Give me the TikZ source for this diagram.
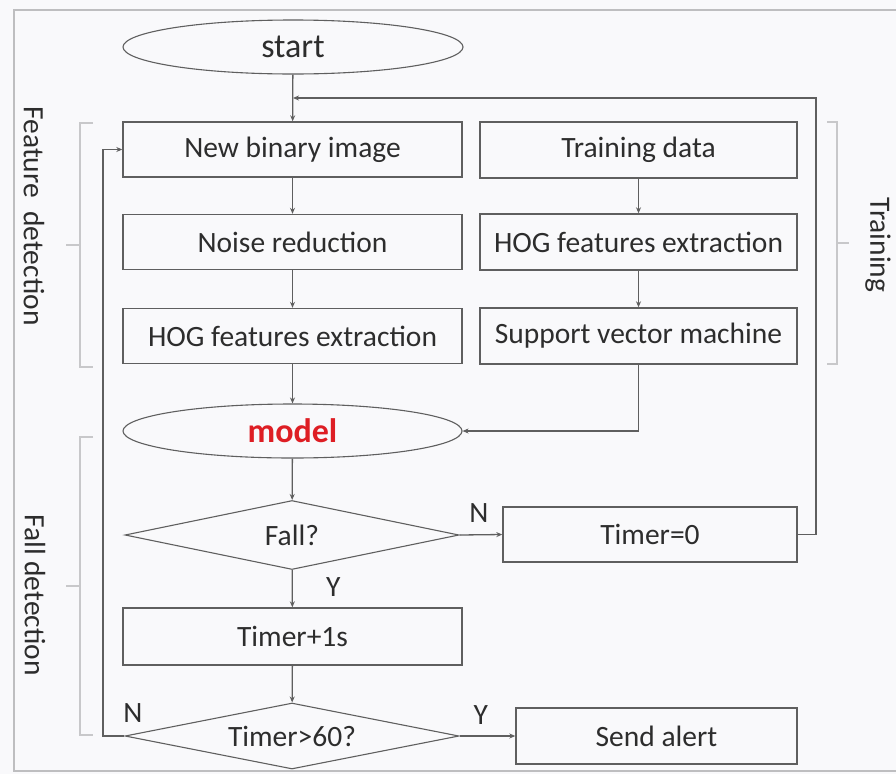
\documentclass[tikz,border=0pt]{standalone}
\usepackage{fontspec}
\setmainfont{Carlito}
\usetikzlibrary{shapes.geometric,arrows.meta}
\definecolor{bgc}{RGB}{249,249,251}
\definecolor{framec}{RGB}{190,190,192}
\definecolor{linec}{RGB}{95,95,95}
\definecolor{txtc}{RGB}{45,45,45}
\definecolor{bracec}{RGB}{200,200,202}
\definecolor{modelred}{RGB}{222,30,36}
\begin{document}
\begin{tikzpicture}[x=1pt,y=-1pt,
  every node/.style={font=\fontsize{29.5}{34}\selectfont, text=txtc},
  procbox/.style={draw=linec, line width=1.4pt, rectangle, inner sep=0pt, minimum height=55pt},
  termshape/.style={draw=linec, line width=1.1pt, ellipse, inner sep=0pt, minimum width=339pt, minimum height=54pt},
  decide/.style={draw=linec, line width=1.1pt, diamond, shape aspect=5, inner sep=0pt, minimum width=334pt},
  flow/.style={draw=linec, line width=1.3pt, -{Stealth[length=6pt,width=5pt]}},
  brace/.style={draw=bracec, line width=1.2pt},
  sidelabel/.style={rotate=-90, anchor=center}]
% background and frame
\fill[bgc] (0,0) rectangle (896,774);
\useasboundingbox (0,0) rectangle (896,774);
\draw[framec, line width=1.6pt] (896,10) -- (14,10) -- (14,771) -- (896,771);

% left column
\node[termshape, minimum width=340pt, font=\fontsize{34}{38}\selectfont] (start) at (293,47) {start};
\node[procbox, minimum width=339pt] (newimg) at (292.5,149.5) {New binary image};
\node[procbox, minimum width=339pt] (noise) at (292.5,242) {Noise reduction};
\node[procbox, minimum width=339pt] (hogl) at (292.5,336) {HOG features extraction};
\node[termshape, font=\fontsize{34}{38}\selectfont\bfseries] (model) at (292.5,431) {\textcolor{modelred}{model}};
\node[decide, minimum height=69pt] (fall) at (292,535) {Fall?};
\node[procbox, minimum width=339pt, minimum height=57pt] (inc) at (292.5,636.5) {Timer+1s};
\node[decide, minimum height=66pt] (over) at (292,736) {Timer>60?};

% right column
\node[procbox, minimum width=317pt, minimum height=56pt] (train) at (638.5,150) {Training data};
\node[procbox, minimum width=317pt, minimum height=56pt] (hogr) at (638.5,242) {HOG features extraction};
\node[procbox, minimum width=317pt, minimum height=56pt] (svm) at (638.5,336) {Support vector machine};
\node[procbox, minimum width=294pt] (reset) at (650,534.5) {Timer=0};
\node[procbox, minimum width=281pt, minimum height=56pt] (alert) at (656.5,736) {Send alert};

% helper points for the loops
\coordinate (join) at (start.south |- 0,98);
\coordinate (rback) at (816,98);
\coordinate (lback) at (103,736);

% main flow
\draw[flow] (start) -- (newimg);
\draw[flow] (newimg) -- (noise);
\draw[flow] (noise) -- (hogl);
\draw[flow] (hogl) -- (model);
\draw[flow] (model) -- (fall);
\draw[flow] (fall) -- node[pos=0.45, right=30pt] {Y} (inc);
\draw[flow] (inc) -- (over);
\draw[flow] (train) -- (hogr);
\draw[flow] (hogr) -- (svm);
\draw[flow] (svm.south) |- (model.east);
\draw[flow] (fall.east) -- node[above=8pt, pos=0.45] {N} (reset.west);
\draw[flow] (over.east) -- node[above=8pt, pos=0.38] {Y} (alert.west);
\draw[flow] (reset.east) -| (rback) -- (join);
\draw[flow] (over.west) -- (lback) |- (newimg.west);
\node at (133,713) {N};

% group brackets
\draw[brace] (93,123) -- (80,123) -- (80,367) -- (93,367);
\draw[brace] (80,245) -- (66,245);
\draw[brace] (93,437) -- (80,437) -- (80,735) -- (93,735);
\draw[brace] (80,586) -- (66,586);
\draw[brace] (827,122) -- (837,122) -- (837,364) -- (827,364);
\draw[brace] (837,243) -- (849,243);

% group labels
\node[sidelabel] (featlbl) at (34,216) {Feature\ \ detection};
\node[sidelabel] (falllbl) at (35,595) {Fall detection};
\node[sidelabel] (trainlbl) at (878,245) {Training};
\end{tikzpicture}
\end{document}
